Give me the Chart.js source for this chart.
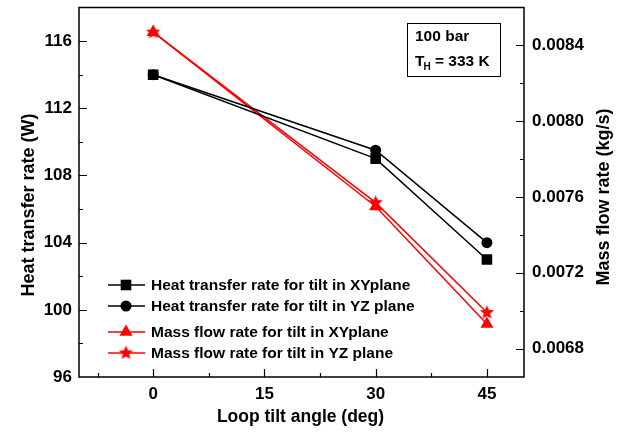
<!DOCTYPE html>
<html>
<head>
<meta charset="utf-8">
<script src="https://cdn.jsdelivr.net/npm/chart.js@4.4.0/dist/chart.umd.min.js"></script>
<style>
  html, body { margin: 0; padding: 0; background: #fff; }
  #wrap { width: 622px; height: 434px; }
</style>
</head>
<body>
<div id="wrap"><canvas id="myChart" width="622" height="434"></canvas></div>
<script>
// tilt angles (deg)
const angles = [0, 30, 45];
// heat transfer rate (W)
const heatXY = [114.0, 109.0, 103.0];
const heatYZ = [114.0, 109.5, 104.0];
// mass flow rate (kg/s)
const massXY = [0.00847, 0.00755, 0.00693];
const massYZ = [0.00847, 0.00757, 0.00699];

const xTicks = [0, 15, 30, 45];
const leftTicks = [96, 100, 104, 108, 112, 116];
const rightTicks = [0.0068, 0.0072, 0.0076, 0.0080, 0.0084];

const FONT = '"Liberation Sans", Arial, sans-serif';

function pts(ys) {
  return angles.map((a, i) => ({ x: a, y: ys[i] }));
}

// filled five point star for the marker
function makeStar(r, color) {
  const c = document.createElement('canvas');
  const s = Math.ceil(r * 2 + 2);
  c.width = s; c.height = s;
  const g = c.getContext('2d');
  g.fillStyle = color;
  g.beginPath();
  for (let i = 0; i < 10; i++) {
    const rad = i % 2 === 0 ? r : r * 0.45;
    const a = -Math.PI / 2 + i * Math.PI / 5;
    const px = s / 2 + rad * Math.cos(a);
    const py = s / 2 + rad * Math.sin(a);
    if (i === 0) g.moveTo(px, py); else g.lineTo(px, py);
  }
  g.closePath();
  g.fill();
  return c;
}
const starImg = makeStar(7.5, '#ff0000');

function fixScale(size) {
  return function (scale) {
    if (scale.isHorizontal()) scale.height = size; else scale.width = size;
    scale.paddingTop = 0; scale.paddingBottom = 0;
    scale.paddingLeft = 0; scale.paddingRight = 0;
  };
}

function setTicks(list) {
  return function (scale) { scale.ticks = list.map(v => ({ value: v })); };
}

// frame, inward ticks, axis titles, legend and the condition box
const decorations = {
  id: 'decorations',
  afterDraw(chart) {
    const ctx = chart.ctx;
    const a = chart.chartArea;
    const sx = chart.scales.x, sy = chart.scales.y, sy1 = chart.scales.y1;
    ctx.save();
    ctx.strokeStyle = '#000';
    ctx.lineWidth = 1.5;
    ctx.strokeRect(a.left, a.top, a.right - a.left, a.bottom - a.top);

    ctx.lineWidth = 1.2;
    ctx.beginPath();
    for (let v = -7.5; v <= 45; v += 7.5) {
      const px = Math.round(sx.getPixelForValue(v)) + 0.5;
      const len = (v % 15 === 0) ? 8 : 4;
      ctx.moveTo(px, a.bottom); ctx.lineTo(px, a.bottom - len);
    }
    for (let v = 98; v <= 116; v += 2) {
      const py = Math.round(sy.getPixelForValue(v)) + 0.5;
      const len = (v % 4 === 0) ? 8 : 4;
      ctx.moveTo(a.left, py); ctx.lineTo(a.left + len, py);
    }
    for (let k = 68; k <= 85; k += 2) {
      const py = Math.round(sy1.getPixelForValue(k / 10000)) + 0.5;
      const len = (k % 4 === 0) ? 8 : 4;
      ctx.moveTo(a.right, py); ctx.lineTo(a.right - len, py);
    }
    ctx.stroke();

    // axis titles; vertical ones read bottom to top
    ctx.fillStyle = '#000';
    ctx.font = 'bold 17.5px ' + FONT;
    ctx.textAlign = 'center';
    ctx.textBaseline = 'middle';
    ctx.fillText('Loop tilt angle (deg)', (a.left + a.right) / 2 - 1, 417);
    ctx.font = 'bold 18px ' + FONT;
    [['Heat transfer rate (W)', 29, 205], ['Mass flow rate (kg/s)', 604, 197]].forEach(t => {
      ctx.save();
      ctx.translate(t[1], t[2]);
      ctx.rotate(-Math.PI / 2);
      ctx.fillText(t[0], 0, 0);
      ctx.restore();
    });

    // legend
    const rows = [
      { y: 285, ds: 0 }, { y: 306, ds: 1 }, { y: 332, ds: 2 }, { y: 353, ds: 3 }
    ];
    ctx.font = 'bold 15.5px ' + FONT;
    ctx.textBaseline = 'middle';
    ctx.textAlign = 'left';
    rows.forEach(r => {
      const ds = chart.data.datasets[r.ds];
      ctx.strokeStyle = ds.borderColor;
      ctx.lineWidth = 1.5;
      ctx.beginPath();
      ctx.moveTo(108, r.y); ctx.lineTo(145, r.y);
      ctx.stroke();
      const ps = ds.pointStyle;
      ctx.fillStyle = ds.pointBackgroundColor;
      if (ps instanceof HTMLCanvasElement) {
        ctx.drawImage(ps, 126 - ps.width / 2, r.y - ps.height / 2);
      } else {
        Chart.helpers.drawPoint(ctx, { pointStyle: ps, radius: ds.pointRadius, borderWidth: 0 }, 126, r.y);
      }
      ctx.fillStyle = '#000';
      ctx.fillText(ds.label, 151, r.y + 1);
    });

    // condition box
    ctx.strokeStyle = '#000';
    ctx.lineWidth = 1;
    ctx.strokeRect(407.5, 23.5, 93, 53);
    ctx.fillStyle = '#000';
    ctx.font = 'bold 15.5px ' + FONT;
    ctx.fillText('100 bar', 415, 37);
    ctx.fillText('T', 415, 62);
    const tw = ctx.measureText('T').width;
    ctx.font = 'bold 10px ' + FONT;
    ctx.fillText('H', 415 + tw - 1, 67);
    const hw = ctx.measureText('H').width;
    ctx.font = 'bold 15.5px ' + FONT;
    ctx.fillText(' = 333 K', 415 + tw - 1 + hw, 62);
    ctx.restore();
  }
};

const tickFont = { family: FONT, size: 17, weight: 'bold' };

const ctx = document.getElementById('myChart').getContext('2d');
const myChart = new Chart(ctx, {
  type: 'line',
  data: {
    datasets: [
      {
        label: 'Heat transfer rate for tilt in XYplane',
        data: pts(heatXY), yAxisID: 'y',
        borderColor: '#000', backgroundColor: '#000', pointBackgroundColor: '#000',
        borderWidth: 1.5, pointStyle: 'rect', pointRadius: 7.5, pointBorderWidth: 0
      },
      {
        label: 'Heat transfer rate for tilt in YZ plane',
        data: pts(heatYZ), yAxisID: 'y',
        borderColor: '#000', backgroundColor: '#000', pointBackgroundColor: '#000',
        borderWidth: 1.5, pointStyle: 'circle', pointRadius: 5.5, pointBorderWidth: 0
      },
      {
        label: 'Mass flow rate for tilt in XYplane',
        data: pts(massXY), yAxisID: 'y1',
        borderColor: '#ff0000', backgroundColor: '#ff0000', pointBackgroundColor: '#ff0000',
        borderWidth: 1.5, pointStyle: 'triangle', pointRadius: 7.5, pointBorderWidth: 0
      },
      {
        label: 'Mass flow rate for tilt in YZ plane',
        data: pts(massYZ), yAxisID: 'y1',
        borderColor: '#ff0000', backgroundColor: '#ff0000', pointBackgroundColor: '#ff0000',
        borderWidth: 1.5, pointStyle: starImg, pointRadius: 7.5, pointBorderWidth: 0
      }
    ]
  },
  options: {
    responsive: false,
    animation: false,
    layout: { padding: { top: 7, left: 0, right: 0, bottom: 0 } },
    plugins: { legend: { display: false }, tooltip: { enabled: false } },
    scales: {
      x: {
        type: 'linear', min: -10, max: 50,
        grid: { display: false, drawTicks: false }, border: { display: false },
        afterBuildTicks: setTicks(xTicks),
        afterFit: fixScale(57),
        ticks: { color: '#000', padding: 7, font: tickFont }
      },
      y: {
        position: 'left', min: 96, max: 118,
        grid: { display: false, drawTicks: false }, border: { display: false },
        afterBuildTicks: setTicks(leftTicks),
        afterFit: fixScale(79),
        ticks: { color: '#000', padding: 7, font: tickFont }
      },
      y1: {
        position: 'right', min: 0.00665, max: 0.0086,
        grid: { display: false, drawTicks: false }, border: { display: false },
        afterBuildTicks: setTicks(rightTicks),
        afterFit: fixScale(98),
        ticks: { color: '#000', padding: 8, font: tickFont,
                 callback: v => v.toFixed(4) }
      }
    }
  },
  plugins: [decorations]
});
</script>
</body>
</html>
